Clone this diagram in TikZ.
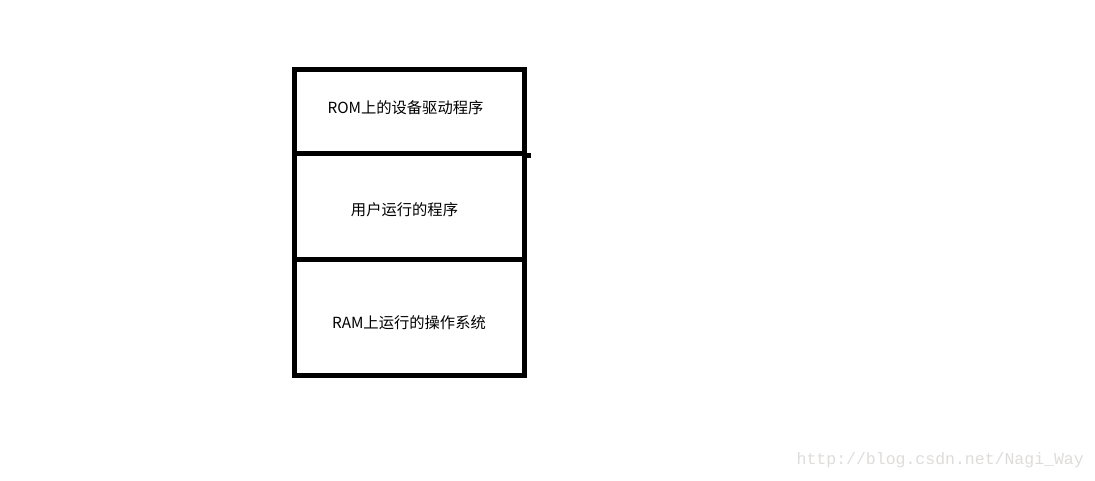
\documentclass[tikz,border=0pt]{standalone}
\usepackage{fontspec}
\newfontfamily\cjk{Noto Sans CJK SC}
\setmonofont{Liberation Mono}
\usetikzlibrary{positioning}
\definecolor{MarkGray}{HTML}{DEDCDA}

\begin{document}
\begin{tikzpicture}[x=1pt, y=-1pt,
  sect/.style={draw=black, line width=5pt, minimum width=230.5pt, inner sep=0pt},
  lbl/.style={font=\cjk\fontsize{15.3}{17}\selectfont, inner sep=0pt},
  wmark/.style={font=\ttfamily\fontsize{16.5}{18}\selectfont, text=MarkGray, inner sep=0pt}
]
\useasboundingbox (0,0) rectangle (1095,480);
\node[sect, minimum height=83.5pt] (rom) at (409.25,111.25) {};
\node[sect, minimum height=106.5pt] (user) at (409.25,206.25) {};
\node[sect, minimum height=115.5pt] (ram) at (409.25,317.25) {};
\draw[line width=4.5pt] (rom.south east) -- ++(3.5,0);
\node[lbl] (romtxt) at (405.5,108) {ROM上的设备驱动程序};
\node[lbl] (usertxt) at (404.5,210) {用户运行的程序};
\node[lbl] (ramtxt) at (409,323) {RAM上运行的操作系统};
\node[wmark, anchor=east] (url) at (1084,460) {http://blog.csdn.net/Nagi\_Way};
\end{tikzpicture}
\end{document}
